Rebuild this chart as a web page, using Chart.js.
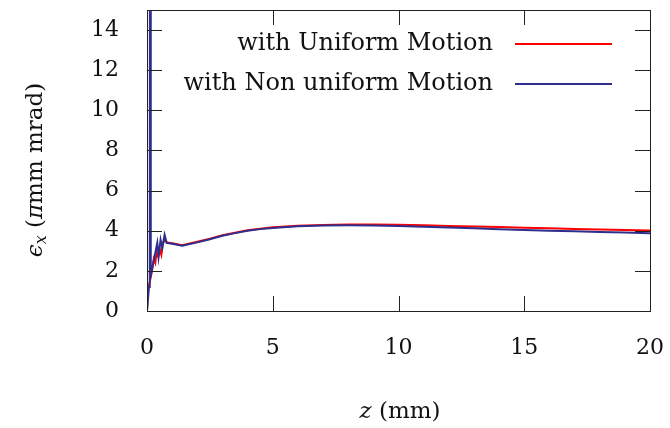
<!DOCTYPE html>
<html>
<head>
<meta charset="utf-8">
<script src="https://cdn.jsdelivr.net/npm/chart.js@4.4.1/dist/chart.umd.min.js"></script>
<style>
  body { margin: 0; background: #fff; }
  canvas { display: block; }
</style>
</head>
<body>
<canvas id="emitChart" width="670" height="428"></canvas>
<script>
// emittance along z
const zUniform = [0, 0.04, 0.12, 0.2, 0.27, 0.33, 0.38, 0.45, 0.5, 0.57, 0.63, 0.7, 0.8, 1.0, 1.4, 2.0, 2.5, 3.0, 3.5, 4.0, 4.5, 5.0, 6.0, 7.0, 8.0, 9.0, 10, 11, 12, 13, 14, 15, 16, 17, 18, 19, 20];
const epsUniform = [0, 1.1, 1.5, 2.0, 2.6, 2.4, 2.9, 2.7, 3.1, 2.8, 3.4, 3.5, 3.42, 3.38, 3.28, 3.45, 3.6, 3.78, 3.9, 4.02, 4.1, 4.17, 4.25, 4.29, 4.31, 4.31, 4.3, 4.27, 4.24, 4.21, 4.18, 4.15, 4.12, 4.09, 4.06, 4.04, 4.01];

const zNonUniform = [0, 0.08, 0.11, 0.125, 0.15, 0.25, 0.41, 0.46, 0.54, 0.61, 0.7, 0.78, 1.0, 1.4, 2.0, 2.5, 3.0, 3.5, 4.0, 4.5, 5.0, 6.0, 7.0, 8.0, 9.0, 10, 11, 12, 13, 14, 15, 16, 17, 18, 19, 20];
const epsNonUniform = [0, 1.2, 1.5, 40, 1.8, 2.4, 3.4, 2.7, 3.55, 3.15, 3.8, 3.4, 3.35, 3.25, 3.42, 3.58, 3.75, 3.88, 4.0, 4.08, 4.14, 4.22, 4.26, 4.27, 4.26, 4.24, 4.2, 4.16, 4.12, 4.08, 4.04, 4.0, 3.97, 3.94, 3.91, 3.88];

const seriesLabels = ["with Uniform Motion", "with Non uniform Motion"];
const xTicks = [0, 5, 10, 15, 20];
const yTicks = [0, 2, 4, 6, 8, 10, 12, 14];

const FONT = "'DejaVu Serif', 'Liberation Serif', serif";

function toPoints(xs, ys) {
    return xs.map(function (x, i) { return { x: x, y: ys[i] }; });
}

function noPad(s) {
    s.paddingLeft = 0; s.paddingRight = 0; s.paddingTop = 0; s.paddingBottom = 0;
}

// gnuplot style box with inward ticks, axis titles and legend
const decorPlugin = {
    id: "decor",
    afterDraw(chart) {
        const ctx = chart.ctx;
        const a = chart.chartArea;
        const xs = chart.scales.x, ys = chart.scales.y;
        ctx.save();
        ctx.strokeStyle = "#222";
        ctx.lineWidth = 1;
        ctx.beginPath();
        ys.ticks.forEach(function (t) {
            const py = Math.round(ys.getPixelForValue(t.value)) + 0.5;
            ctx.moveTo(a.left, py); ctx.lineTo(a.left + 15, py);
            ctx.moveTo(a.right, py); ctx.lineTo(a.right - 15, py);
        });
        xs.ticks.forEach(function (t) {
            const px = Math.round(xs.getPixelForValue(t.value)) + 0.5;
            ctx.moveTo(px, a.bottom); ctx.lineTo(px, a.bottom - 15);
            ctx.moveTo(px, a.top); ctx.lineTo(px, a.top + 15);
        });
        ctx.stroke();
        ctx.strokeRect(Math.round(a.left) + 0.5, Math.round(a.top) + 0.5, Math.round(a.right - a.left), Math.round(a.bottom - a.top));

        // legend
        ctx.textAlign = "right";
        ctx.textBaseline = "middle";
        ctx.fillStyle = "#111";
        ctx.font = "24px " + FONT;
        chart.data.datasets.forEach(function (ds, i) {
            const y = 44 + i * 40;
            ctx.fillText(ds.label, 493, y);
            ctx.strokeStyle = ds.borderColor;
            ctx.lineWidth = 2;
            ctx.beginPath();
            ctx.moveTo(515, y); ctx.lineTo(612, y);
            ctx.stroke();
        });

        // axis titles with italic symbols
        function drawParts(parts, cx, cy) {
            let w = 0;
            parts.forEach(function (p) { ctx.font = p.f; p.w = ctx.measureText(p.t).width; w += p.w; });
            let x = cx - w / 2;
            ctx.textAlign = "left";
            parts.forEach(function (p) {
                ctx.font = p.f;
                ctx.fillText(p.t, x, cy + (p.dy || 0));
                x += p.w;
            });
        }
        ctx.fillStyle = "#111";
        ctx.textBaseline = "alphabetic";
        drawParts([
            { t: "z", f: "italic 23px " + FONT },
            { t: " (mm)", f: "23px " + FONT }
        ], 400, 418);

        ctx.translate(42, 170);
        ctx.rotate(-Math.PI / 2);
        drawParts([
            { t: "\u03f5", f: "italic 23px " + FONT },
            { t: "x", f: "italic 16px " + FONT, dy: 4 },
            { t: " (", f: "23px " + FONT },
            { t: "\u03c0", f: "italic 23px " + FONT },
            { t: "mm mrad)", f: "23px " + FONT }
        ], 0, 0);
        ctx.restore();
    }
};

new Chart(document.getElementById("emitChart"), {
    type: "line",
    data: {
        datasets: [
            {
                label: seriesLabels[0],
                data: toPoints(zUniform, epsUniform),
                borderColor: "#ff0000",
                borderWidth: 2,
                pointRadius: 0,
                tension: 0,
                order: 1
            },
            {
                label: seriesLabels[1],
                data: toPoints(zNonUniform, epsNonUniform),
                borderColor: "#2e2e8e",
                borderWidth: 2,
                pointRadius: 0,
                tension: 0,
                order: 0
            }
        ]
    },
    options: {
        responsive: false,
        animation: false,
        devicePixelRatio: 1,
        layout: { padding: { top: 10, right: 20, left: 0, bottom: 0 } },
        plugins: { legend: { display: false }, tooltip: { enabled: false } },
        scales: {
            x: {
                type: "linear",
                min: 0,
                max: 20,
                afterBuildTicks: function (s) { s.ticks = xTicks.map(function (v) { return { value: v }; }); },
                afterFit: function (s) { s.height = 117; noPad(s); },
                grid: { display: false },
                border: { display: false },
                ticks: { color: "#111", font: { family: FONT, size: 22 }, padding: 16, maxRotation: 0, autoSkip: false }
            },
            y: {
                type: "linear",
                min: 0,
                max: 15,
                afterBuildTicks: function (s) { s.ticks = yTicks.map(function (v) { return { value: v }; }); },
                afterFit: function (s) { s.width = 147; noPad(s); },
                grid: { display: false },
                border: { display: false },
                ticks: { color: "#111", font: { family: FONT, size: 22 }, padding: 20, autoSkip: false }
            }
        }
    },
    plugins: [decorPlugin]
});
</script>
</body>
</html>
